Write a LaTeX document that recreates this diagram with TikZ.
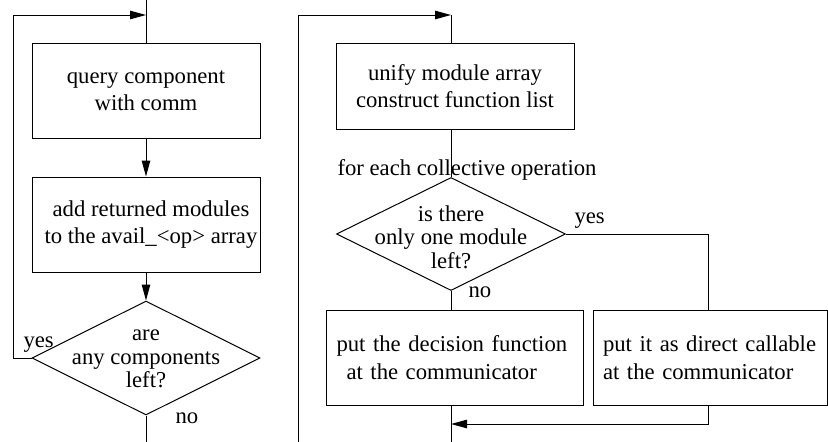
\documentclass[tikz,border=0pt]{standalone}
\usepackage{fontspec}
\setmainfont{Liberation Serif}
\usetikzlibrary{shapes.geometric,arrows.meta}
\newcommand\fnBox{\fontsize{22.7}{27}\selectfont}
\newcommand\fnWide{\fontsize{22.7}{28}\selectfont}
\newcommand\fnDia{\fontsize{22.7}{23.5}\selectfont}
\tikzset{
  every path/.style={line width=1pt},
  box/.style={draw, rectangle, inner sep=0pt, align=center, font=\fnBox},
  leftbox/.style={draw, rectangle, inner xsep=10pt, inner ysep=0pt, align=left, font=\fnWide},
  dia/.style={draw, diamond, inner sep=0pt, minimum width=228pt, minimum height=114pt},
  diatext/.style={inner sep=0pt, align=center, font=\fnDia},
  lab/.style={inner sep=0pt, font=\fontsize{22.7}{27}\selectfont},
  arr/.style={-{Triangle[length=16pt,width=8.5pt]}}
}
\begin{document}
\begin{tikzpicture}[x=1pt,y=-1pt]
\useasboundingbox (0,0) rectangle (828,442);

% ---------- left flow ----------
\node[box, minimum width=228pt, minimum height=95pt] (b1) at (146,90.5) {query component\\with comm};
\node[box, minimum width=228pt, minimum height=95pt] (b2) at (146,224.5) {\hspace*{10pt}add returned modules\\\hspace*{10pt}to the avail\_<op> array};
\node[dia] (d1) at (146,358) {};
\node[diatext] (d1t) at (146,359) {are\\any components\\left?};

\coordinate (top1) at (146,0);
\coordinate (bot1) at (146,442);
\coordinate (j1) at (146,15);
\coordinate (l1) at (13,15);

\draw (top1) -- (b1.north);
\draw[arr] (b1.south) -- (b2.north);
\draw[arr] (b2.south) -- (d1.north);
\draw[arr] (d1.west) -| (l1) -- (j1);
\draw (d1.south) -- (bot1);

\node[lab, anchor=base west] (yes1) at (23,347) {yes};
\node[lab, anchor=base west] (no1) at (175,423) {no};

% ---------- right flow ----------
\node[box, minimum width=238pt, minimum height=86pt] (b3) at (455,86) {unify module array\\construct function list};
\node[dia, minimum width=229pt, minimum height=113pt] (d2) at (451,234) {};
\node[diatext] (d2t) at (451,237) {is there\\only one module\\left?};
\node[leftbox, text width=237pt, minimum height=95pt] (b4) at (455,357.5) {put the decision function\\\hspace*{10pt}at the communicator};
\node[leftbox, text width=214pt, minimum height=95pt] (b5) at (710,357.5) {put it as direct callable\\at the communicator};

\coordinate (j2) at (451,15);
\coordinate (l2) at (298,15);
\coordinate (l2b) at (298,442);
\coordinate (bot2) at (451,442);
\coordinate (yx) at (708,424);

\draw[arr] (l2b) -- (l2) -- (j2);
\draw (j2) -- (j2 |- b3.north);
\draw (b3.south -| d2.north) -- (d2.north);
\draw (d2.south) -- (d2.south |- b4.north);
\draw (d2.east) -| (yx |- b5.north);
\draw (b4.south -| bot2) -- (bot2);
\draw[arr] (yx |- b5.south) -- (yx) -- (yx -| bot2);

\node[lab, anchor=base west] (fe) at (337,175) {for each collective operation};
\node[lab, anchor=base west] (yes2) at (574,223) {yes};
\node[lab, anchor=base west] (no2) at (468,297) {no};
\end{tikzpicture}
\end{document}
